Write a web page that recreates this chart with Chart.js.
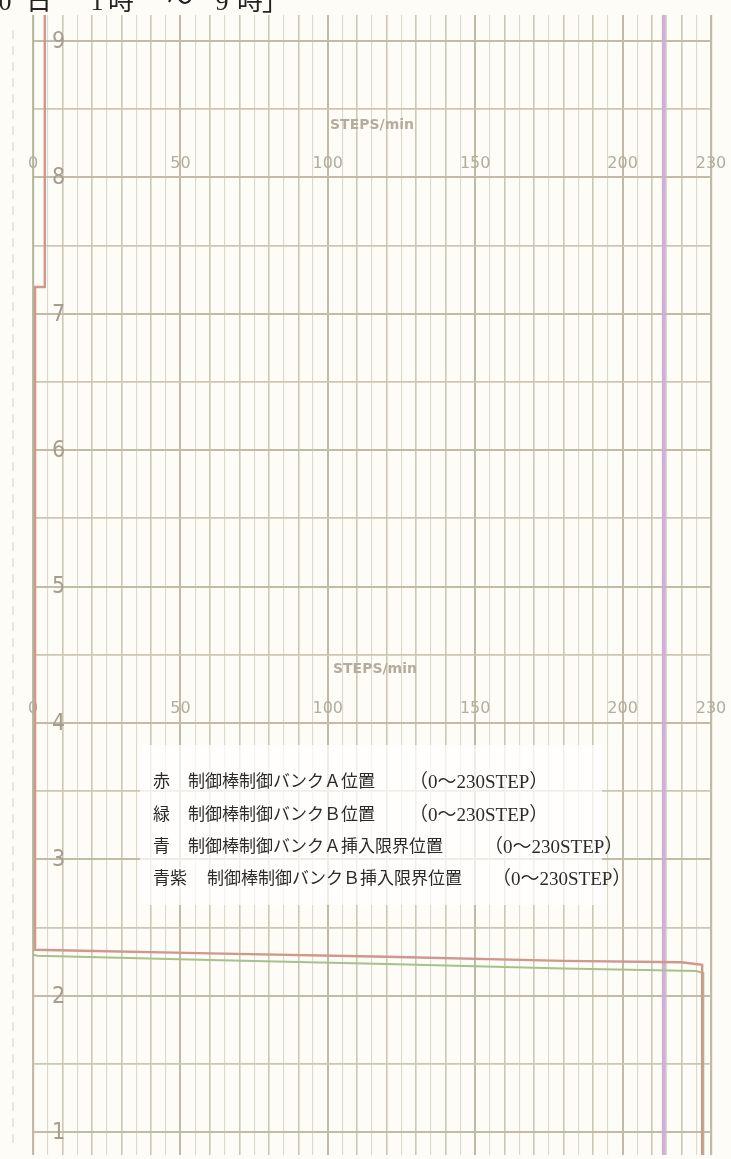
<!DOCTYPE html>
<html><head><meta charset="utf-8">
<script src="https://cdn.jsdelivr.net/npm/chart.js@4.4.1/dist/chart.umd.min.js"></script>
<style>html,body{margin:0;padding:0;background:#fdfcf7;}#wrap{width:731px;height:1159px;position:relative;}</style>
</head><body><div id="wrap"><canvas id="c"></canvas></div>
<script>
// ---- data ----
const hourTicks = [1,1.5,2,2.5,3,3.5,4,4.5,5,5.5,6,6.5,7,7.5,8,8.5,9];
const hourTickLabels = ['1','','2','','3','','4','','5','','6','','7','','8','','9'];
const stepTicks = [0,5,10,15,20,25,30,35,40,45,50,55,60,65,70,75,80,85,90,95,100,105,110,115,120,125,130,135,140,145,150,155,160,165,170,175,180,185,190,195,200,205,210,215,220,225,230];
const stepLabels = [0,50,100,150,200,230];
const unitLabel = 'STEPS/min';
// hour axis: value = clock hour (1..9), step axis: rod position 0..230 steps
const bankA = [{x:227,y:0.83},{x:227,y:2.226},{x:220,y:2.245},{x:180,y:2.255},{x:120,y:2.285},{x:60,y:2.31},{x:0.7,y:2.336},{x:0.7,y:7.196},{x:4,y:7.196},{x:4,y:9.19}];
const bankB = [{x:227.4,y:0.83},{x:227.4,y:2.165},{x:225,y:2.18},{x:180,y:2.198},{x:120,y:2.232},{x:60,y:2.262},{x:1.5,y:2.292},{x:0,y:2.3},{x:0,y:9.19}];
const limitB = [{x:214,y:0.83},{x:214,y:9.19}];
const legendColors = ['赤','緑','青','青紫'];
const legendItems = ['制御棒制御バンクＡ位置','制御棒制御バンクＢ位置','制御棒制御バンクＡ挿入限界位置','制御棒制御バンクＢ挿入限界位置'];
const legendRange = '（0～230STEP）';
const titleGlyphs = ['0','日','1','時','～','9','時','」'];

// ---- layout (not data) ----
const titleX = [5,39,97,121,180,222,250,275];
const legendRowY = [783,816,848,880];
const legendDescX = [188,188,188,207];
const legendRangeX = [409,409,484,492];

const paperPlugin = {
  id:'paper',
  beforeDraw(chart){
    const ctx = chart.ctx;
    ctx.save();
    ctx.strokeStyle = '#dcd8cb'; ctx.lineWidth = 1.2; ctx.setLineDash([9,7]);
    ctx.beginPath(); ctx.moveTo(13,30); ctx.lineTo(13,1150); ctx.stroke();
    ctx.setLineDash([]);
    ctx.fillStyle = '#222';
    ctx.font = '26px "Liberation Serif","Noto Sans CJK JP"';
    ctx.textAlign = 'center'; ctx.textBaseline = 'alphabetic';
    titleGlyphs.forEach((g,i)=>ctx.fillText(g, titleX[i], 10));
    ctx.restore();
  },
  beforeDatasetsDraw(chart){
    const {ctx, scales:{x,y}} = chart;
    ctx.save();
    ctx.fillStyle = '#a49e8f'; ctx.textAlign = 'left'; ctx.textBaseline = 'middle';
    ctx.font = '23px "DejaVu Sans Condensed","DejaVu Sans"';
    hourTicks.forEach((h,i)=>{ if(hourTickLabels[i]) ctx.fillText(hourTickLabels[i], x.left + 19, y.getPixelForValue(h) + 1); });
    ctx.fillStyle = '#b3ad9e'; ctx.textAlign = 'center';
    ctx.font = '16px "DejaVu Sans"';
    [8.1,4.1].forEach(h=>stepLabels.forEach(v=>ctx.fillText(String(v), x.getPixelForValue(v), y.getPixelForValue(h))));
    ctx.font = 'bold 14px "DejaVu Sans"';
    [[8.38,115],[4.39,116]].forEach(([h,s])=>ctx.fillText(unitLabel, x.getPixelForValue(s), y.getPixelForValue(h)));
    ctx.restore();
  },
  afterDatasetsDraw(chart){
    const ctx = chart.ctx;
    ctx.save();
    ctx.fillStyle = 'rgba(255,255,255,0.72)';
    ctx.fillRect(140,745,462,160);
    ctx.fillStyle = '#2a2a2a';
    ctx.textAlign = 'left'; ctx.textBaseline = 'middle';
    legendColors.forEach((c,i)=>{
      ctx.font = '17px "Liberation Serif","Noto Sans CJK JP"';
      ctx.fillText(c, 153, legendRowY[i]);
      ctx.fillText(legendItems[i], legendDescX[i], legendRowY[i]);
      ctx.font = '19px "Liberation Serif","Noto Sans CJK JP"';
      ctx.fillText(legendRange, legendRangeX[i], legendRowY[i]);
    });
    ctx.restore();
  }
};

new Chart(document.getElementById('c'), {
  type:'line',
  data:{ datasets:[
    {label:'赤 制御棒制御バンクA位置', data:bankA, borderColor:'#cf978d', borderWidth:2.4, pointRadius:0, tension:0, order:0},
    {label:'緑 制御棒制御バンクB位置', data:bankB, borderColor:'#a6c18b', borderWidth:2, pointRadius:0, tension:0, order:1},
    {label:'青紫 制御棒制御バンクB挿入限界位置', data:limitB, borderColor:'#cfafd7', borderWidth:4, pointRadius:0, tension:0, order:2}
  ]},
  options:{
    responsive:true, maintainAspectRatio:false, animation:false,
    layout:{padding:{left:33,right:20,top:15,bottom:4}},
    plugins:{legend:{display:false}, tooltip:{enabled:false}},
    scales:{
      x:{type:'linear', min:0, max:230,
        afterBuildTicks:s=>{ s.ticks = stepTicks.map(v=>({value:v})); },
        afterFit:s=>{ s.height = 0; s.paddingLeft = 0; s.paddingRight = 0; },
        ticks:{display:false},
        border:{display:false},
        grid:{drawTicks:false,
          color:c=>{const v=c.tick.value; if(v===0||v===230||v%50===0) return '#c2baa8'; if(v%10===0) return '#cdc7b6'; return '#dcd8cb';},
          lineWidth:c=>{const v=c.tick.value; if(v===0||v===230) return 2.2; if(v%50===0) return 2; if(v%10===0) return 1.6; return 1.1;}
        }
      },
      y:{type:'linear', min:0.8313, max:9.1907,
        afterBuildTicks:s=>{ s.ticks = hourTicks.map(v=>({value:v})); },
        afterFit:s=>{ s.width = 0; s.paddingTop = 0; s.paddingBottom = 0; },
        ticks:{display:false},
        border:{display:false},
        grid:{drawTicks:false,
          color:c=>Number.isInteger(c.tick.value)?'#c3baa8':'#cdc6b5',
          lineWidth:c=>Number.isInteger(c.tick.value)?2:1.7}
      }
    }
  },
  plugins:[paperPlugin]
});
</script></body></html>
